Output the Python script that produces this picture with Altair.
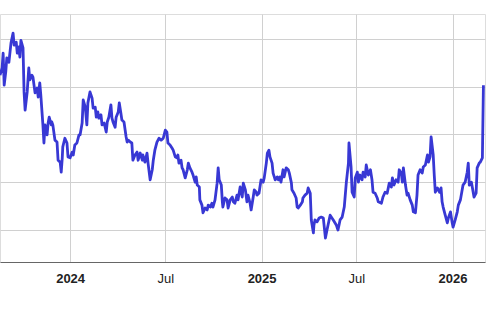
import altair as alt
import pandas as pd

start_date = "2023-08-20"

day_offsets = [
    0, 4, 6, 8, 11, 13, 17, 21, 25, 27,
    31, 33, 36, 38, 40, 44, 46, 48, 52, 55,
    57, 61, 63, 67, 71, 73, 76, 78, 82, 84,
    86, 90, 92, 94, 98, 99, 101, 105, 109, 111,
    115, 117, 119, 120, 124, 128, 130, 134, 138, 140,
    143, 147, 151, 153, 157, 159, 163, 166, 168, 172,
    176, 178, 182, 184, 187, 189, 193, 195, 199, 203,
    205, 208, 212, 214, 216, 220, 222, 226, 228, 231,
    233, 237, 241, 243, 245, 249, 252, 254, 258, 262,
    264, 268, 272, 273, 277, 281, 283, 287, 291, 293,
    296, 300, 304, 308, 312, 316, 319, 321, 325, 329,
    331, 335, 338, 340, 342, 346, 348, 350, 354, 358,
    360, 363, 367, 369, 373, 375, 377, 381, 382, 386,
    388, 392, 396, 398, 402, 405, 407, 411, 415, 417,
    419, 423, 425, 426, 430, 434, 436, 440, 444, 446,
    449, 453, 455, 459, 463, 465, 469, 472, 474, 478,
    480, 484, 486, 490, 491, 495, 499, 503, 505, 509,
    511, 514, 516, 520, 522, 526, 530, 532, 535, 537,
    541, 543, 547, 551, 553, 557, 558, 562, 566, 568,
    570, 574, 578, 579, 583, 587, 589, 593, 595, 599,
    600, 602, 606, 610, 614, 618, 622, 625, 631, 637,
    643, 646, 650, 654, 658, 662, 666, 667, 671, 673,
    677, 679, 683, 685, 688, 692, 694, 698, 700, 704,
    708, 711, 713, 717, 721, 723, 729, 732, 736, 740,
    744, 748, 750, 753, 757, 761, 763, 767, 769, 771,
    775, 778, 780, 784, 788, 790, 794, 797, 799, 803,
    807, 809, 813, 817, 819, 822, 824, 828, 830, 832,
    836, 840, 843, 845, 847, 851, 855, 857, 861, 864,
    866, 870, 874, 876, 880, 884, 885, 889, 893, 895,
    897, 901, 903, 906, 910, 912, 916, 918, 922, 924,
]

values = [
    52.4, 53.9, 57.0, 50.3, 53.1, 56.0, 55.1, 59.1, 61.2, 58.7,
    59.3, 57.0, 58.3, 56.2, 59.7, 58.1, 48.9, 45.1, 48.9, 53.9,
    51.4, 52.4, 52.0, 48.7, 49.7, 47.8, 50.8, 48.2, 42.0, 38.2,
    42.0, 39.9, 42.4, 43.6, 42.0, 42.6, 42.0, 38.8, 38.4, 34.6,
    34.2, 32.1, 35.1, 37.4, 39.2, 38.2, 35.3, 35.1, 36.3, 35.7,
    37.8, 38.2, 39.9, 39.9, 42.4, 47.2, 45.7, 42.0, 46.6, 48.9,
    47.6, 45.5, 45.7, 43.6, 44.7, 43.4, 44.1, 42.0, 42.4, 40.5,
    42.6, 43.6, 46.2, 43.4, 42.6, 41.5, 43.6, 44.7, 46.6, 44.5,
    43.0, 42.6, 39.5, 38.4, 38.8, 38.4, 38.2, 34.6, 35.7, 36.3,
    34.6, 36.1, 34.6, 35.7, 34.2, 36.1, 34.0, 30.5, 32.6, 34.6,
    36.7, 38.4, 39.2, 38.8, 39.2, 40.9, 40.5, 38.2, 37.8, 37.1,
    36.7, 35.3, 35.1, 35.7, 34.0, 34.6, 33.0, 32.6, 30.9, 32.6,
    34.0, 33.0, 32.1, 31.5, 30.0, 31.1, 29.4, 29.0, 26.3, 25.2,
    23.6, 24.6, 24.2, 25.2, 24.8, 25.6, 24.8, 26.3, 29.8, 33.0,
    30.5, 29.4, 25.9, 24.8, 26.7, 26.3, 24.6, 26.3, 26.9, 25.9,
    25.6, 27.3, 26.3, 29.0, 26.9, 29.8, 28.4, 25.9, 27.3, 25.6,
    24.2, 26.9, 28.4, 27.9, 27.3, 27.7, 30.5, 30.0, 30.9, 34.0,
    36.1, 36.7, 35.3, 34.0, 31.9, 30.5, 31.1, 30.5, 31.1, 30.0,
    32.6, 31.1, 33.0, 32.6, 31.9, 29.8, 28.4, 27.7, 26.7, 24.8,
    24.6, 25.2, 25.9, 26.7, 27.3, 27.7, 28.8, 27.7, 22.1, 19.4,
    21.0, 22.1, 21.7, 22.5, 22.7, 22.5, 18.3, 20.0, 23.1, 22.1,
    21.0, 20.0, 22.1, 22.7, 24.8, 30.0, 34.0, 38.2, 33.2, 27.9,
    26.9, 30.9, 32.1, 30.0, 31.5, 30.5, 32.1, 31.1, 33.6, 31.5,
    32.6, 30.5, 27.9, 27.7, 26.7, 25.9, 25.6, 26.9, 27.9, 27.7,
    29.8, 29.0, 30.9, 29.4, 30.5, 30.0, 32.6, 31.9, 30.0, 33.0,
    29.4, 27.3, 27.7, 26.3, 25.2, 23.8, 23.6, 27.3, 31.5, 32.6,
    31.9, 33.2, 33.6, 35.7, 34.2, 35.3, 39.5, 35.7, 31.5, 27.9,
    28.8, 27.9, 28.8, 25.9, 24.8, 23.1, 21.5, 22.5, 23.8, 21.7,
    20.6, 22.1, 23.8, 25.2, 26.3, 28.8, 29.4, 30.0, 32.1, 34.0,
    29.4, 30.0, 28.8, 26.9, 27.7, 33.0, 34.0, 34.2, 35.1, 50.3,
]

x_domain = ["2023-08-20", "2026-03-04"]
x_ticks = ["2024-01-01", "2024-07-01", "2025-01-01", "2025-07-01", "2026-01-01"]
y_grid = [20, 30, 40, 50, 60]
y_domain = [13.3, 65.2]

dates = pd.to_datetime(start_date) + pd.to_timedelta(day_offsets, unit="D")
df = pd.DataFrame({"date": dates.strftime("%Y-%m-%d"), "value": values})

def ms(s):
    return int(pd.Timestamp(s, tz="UTC").timestamp() * 1000)

chart = (
    alt.Chart(df)
    .mark_line(color="#3838d4", strokeWidth=2.8, strokeJoin="round", clip=True)
    .encode(
        x=alt.X(
            "date:T",
            scale=alt.Scale(type="utc", domain=[ms(d) for d in x_domain]),
            axis=alt.Axis(
                title=None,
                values=[ms(d) for d in x_ticks],
                labelExpr="utcFormat(datum.value, '%m') == '01' ? utcFormat(datum.value, '%Y') : utcFormat(datum.value, '%b')",
                labelFontWeight=alt.ExprRef("utcFormat(datum.value, '%m') == '01' ? 'bold' : 'normal'"),
                ticks=False,
                labelPadding=10,
                labelFont="Liberation Sans",
                labelFontSize=13,
                labelColor="#222222",
                domainColor="#666666",
                domainWidth=1,
                gridColor="#d0d0d0",
                gridWidth=1,
                labelFlush=False,
                labelOverlap=False,
            ),
        ),
        y=alt.Y(
            "value:Q",
            scale=alt.Scale(domain=y_domain, nice=False, zero=False),
            axis=alt.Axis(
                title=None,
                values=y_grid,
                labels=False,
                ticks=False,
                domain=False,
                gridColor="#d0d0d0",
                gridWidth=1,
            ),
        ),
    )
    .properties(
        width=485,
        height=248,
        autosize=alt.AutoSizeParams(type="none"),
        padding={"left": 0, "top": 14, "right": 17, "bottom": 47},
    )
    .configure_view(strokeWidth=0)
    .configure(background="white")
)

chart.save("out.html", embed_options={"renderer": "svg", "actions": False})
